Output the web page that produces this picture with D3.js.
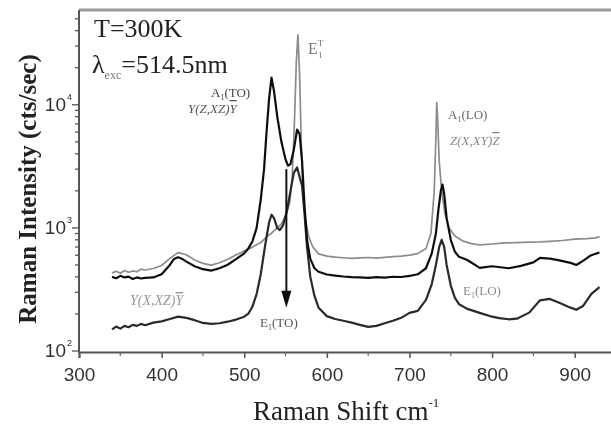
<!DOCTYPE html>
<html>
<head>
<meta charset="utf-8">
<script src="https://cdn.jsdelivr.net/npm/d3@7"></script>
<style>
  body { margin: 0; background: #fff; }
  svg { display: block; }
</style>
</head>
<body>
<div id="chart"></div>
<script>
// Raman spectra, three scattering geometries (shift cm-1, intensity cts/sec)
var greyShift = [340,345,350,355,360,365,370,375,380,390,400,410,420,430,440,450,460,470,480,490,500,510,520,527,533,540,545,550,555,558,561,563,565,567,569,571,574,578,583,590,600,610,620,630,640,650,660,670,680,690,700,710,720,726,730,732,733,734,736,739,743,748,755,765,775,785,800,815,830,845,858,870,885,900,915,925,930]
var greyVal   = [431,445,428,450,436,447,440,462,455,468,495,565,630,605,548,515,498,521,556,603,648,698,760,845,905,1000,1080,1250,1600,2500,8000,22000,37000,18000,5000,2000,1200,850,700,615,590,578,572,566,570,575,569,577,585,590,600,618,680,900,2000,5500,10400,8000,3500,2000,1300,1000,860,780,745,727,740,755,760,765,770,778,790,810,818,830,850]

var darkShift = [340,345,350,355,360,365,370,375,380,390,400,410,415,420,425,430,440,450,460,470,480,490,500,505,510,515,520,524,527,530,533,536,540,545,550,553,556,560,564,567,570,573,576,580,585,590,600,610,620,630,640,650,660,670,680,690,700,710,720,727,732,735,738,740,742,745,750,755,760,770,785,800,820,835,850,858,870,880,895,902,910,920,930]
var darkVal   = [400,390,408,396,402,385,396,388,392,396,420,500,560,578,560,532,488,462,450,470,502,558,622,680,780,1000,1700,3000,6000,11000,16600,13000,8000,5000,3600,3200,3300,4300,6300,5800,3500,1500,800,560,470,440,418,410,403,398,396,392,398,394,401,399,407,420,470,620,900,1400,2000,2250,1900,1200,800,640,582,548,473,488,470,492,525,570,562,548,520,500,540,600,632]

var lowShift  = [340,345,350,355,360,365,370,375,380,390,400,410,420,430,440,450,460,470,480,490,500,505,510,515,520,525,530,533,536,540,543,547,552,556,560,564,567,570,573,576,580,585,590,600,610,620,630,640,650,660,670,680,690,700,710,720,727,732,736,739,742,745,750,755,760,770,785,800,809,820,830,845,858,870,882,895,902,910,920,930]
var lowVal    = [150,158,152,160,156,163,160,166,162,170,174,182,190,186,178,169,166,168,173,180,190,201,230,290,420,700,1100,1280,1200,1000,960,1050,1400,2000,2800,3100,2600,2200,1300,700,400,280,225,192,182,176,170,163,157,160,168,176,186,204,212,260,350,500,700,800,700,500,340,270,240,220,204,190,185,181,183,205,258,265,245,225,216,232,290,330]

var xTicks = [300,400,500,600,700,800,900]
var xMinor = [350,450,550,650,750,850]
var yDecades = [2,3,4]

// peak marker for E1(TO)
var arrowShift = 551
var arrowFrom = 3000
var arrowTo = 225

var width = 611, height = 427

var svg = d3.select("#chart").append("svg")
    .attr("width", width)
    .attr("height", height)
    .style("font-family", "'Liberation Serif', 'Times New Roman', serif")

var defs = svg.append("defs")
defs.append("filter").attr("id", "soft")
    .append("feGaussianBlur").attr("stdDeviation", 0.45)

var x = d3.scaleLinear().domain([300, 950]).range([79, 616])
var y = d3.scaleLog().domain([100, Math.pow(10, 4.77)]).range([351, 10])

var g = svg.append("g").attr("filter", "url(#soft)")

// frame: top line, left and bottom axes
g.append("line").attr("x1", 79).attr("x2", 616).attr("y1", 10).attr("y2", 10)
    .attr("stroke", "#9a9a9a").attr("stroke-width", 3)

var xAxis = g.append("g").attr("transform", "translate(0," + 352 + ")")
    .call(d3.axisBottom(x).tickValues(xTicks).tickSize(6).tickFormat(d3.format("d")))
xAxis.select(".domain").attr("stroke", "#555").attr("stroke-width", 2)
xAxis.selectAll(".tick line").attr("stroke", "#555").attr("stroke-width", 1.5)
xAxis.selectAll("text")
    .attr("font-family", "'Liberation Sans', Arial, sans-serif")
    .attr("font-size", 19).attr("fill", "#333").attr("dy", "1.05em")
xAxis.selectAll(".minor").data(xMinor).enter().append("line")
    .attr("x1", d => x(d)).attr("x2", d => x(d)).attr("y1", 0).attr("y2", 4)
    .attr("stroke", "#666").attr("stroke-width", 1.2)

var yAxis = g.append("g").attr("transform", "translate(" + 79 + ",0)")
yAxis.append("line").attr("x1", 0).attr("x2", 0).attr("y1", 10).attr("y2", 353)
    .attr("stroke", "#555").attr("stroke-width", 2)
var yMinor = []
for (var e = 2; e <= 4; e++) {
    for (var m = 1; m <= 9; m++) {
        var v = m * Math.pow(10, e)
        if (v <= y.domain()[1]) yMinor.push(v)
    }
}
yAxis.selectAll(".ytick").data(yMinor).enter().append("line")
    .attr("x1", d => String(d)[0] === "1" ? -7 : -4)
    .attr("x2", 0)
    .attr("y1", d => y(d)).attr("y2", d => y(d))
    .attr("stroke", "#555").attr("stroke-width", 1.3)

var yLab = yAxis.selectAll(".ylab").data(yDecades).enter().append("text")
    .attr("x", -7).attr("y", d => y(Math.pow(10, d)) + 6)
    .attr("text-anchor", "end")
    .attr("font-family", "'Liberation Sans', Arial, sans-serif")
    .attr("font-size", 19).attr("fill", "#333")
yLab.append("tspan").text("10")
yLab.append("tspan").attr("font-size", 9).attr("dx", 1).attr("dy", -11).text(d => d)

// spectra
var line = d3.line().x(d => x(d[0])).y(d => y(d[1]))
var series = [
    {shift: greyShift, val: greyVal, color: "#8c8c8c", w: 1.7},
    {shift: lowShift, val: lowVal, color: "#2a2a2a", w: 2.2},
    {shift: darkShift, val: darkVal, color: "#111", w: 2.2}
]
series.forEach(function (s) {
    g.append("path")
        .datum(d3.zip(s.shift, s.val))
        .attr("d", line)
        .attr("fill", "none")
        .attr("stroke", s.color)
        .attr("stroke-width", s.w)
        .attr("stroke-linejoin", "round")
})

// arrow
var ax = x(arrowShift), ay0 = y(arrowFrom), ay1 = y(arrowTo)
g.append("line")
    .attr("x1", ax).attr("x2", ax)
    .attr("y1", ay0).attr("y2", ay1 - 14)
    .attr("stroke", "#111").attr("stroke-width", 2)
g.append("path")
    .attr("d", "M" + (ax - 5) + "," + (ay1 - 17) + "L" + (ax + 5) + "," + (ay1 - 17) + "L" + ax + "," + ay1 + "Z")
    .attr("fill", "#111")

// annotations
var txt = g.append("g")

function label(px, py, size, color, italic) {
    return txt.append("text").attr("x", px).attr("y", py)
        .attr("font-size", size).attr("fill", color)
        .attr("font-style", italic ? "italic" : null)
}

label(94, 37, 26, "#222").text("T=300K")

var lam = label(92, 73, 26, "#222")
lam.append("tspan").text("λ")
lam.append("tspan").attr("font-size", 12).attr("dy", 6).attr("fill", "#777").text("exc")
lam.append("tspan").attr("dy", -6).text("=514.5nm")

var a1to = label(211, 97, 13, "#444")
a1to.append("tspan").text("A")
a1to.append("tspan").attr("font-size", 8).attr("dy", 3).text("1")
a1to.append("tspan").attr("dy", -3).text("(TO)")

var geo1 = label(188, 113, 13, "#555", true)
geo1.append("tspan").text("Y(Z,XZ)")
geo1.append("tspan").attr("text-decoration", "overline").text("Y")

var et = label(308, 54, 16, "#777")
et.append("tspan").text("E")
et.append("tspan").attr("font-size", 9).attr("dy", -8).text("T")
et.append("tspan").attr("font-size", 9).attr("dx", -5).attr("dy", 12).text("1")

var a1lo = label(448, 119, 13, "#666")
a1lo.append("tspan").text("A")
a1lo.append("tspan").attr("font-size", 8).attr("dy", 3).text("1")
a1lo.append("tspan").attr("dy", -3).text("(LO)")

var geo2 = label(450, 145, 13, "#888", true)
geo2.append("tspan").text("Z(X,XY)")
geo2.append("tspan").attr("text-decoration", "overline").text("Z")

var e1lo = label(463, 295, 13, "#8a8a8a")
e1lo.append("tspan").text("E")
e1lo.append("tspan").attr("font-size", 8).attr("dy", 3).text("1")
e1lo.append("tspan").attr("dy", -3).text("(LO)")

var e1to = label(260, 327, 13, "#555")
e1to.append("tspan").text("E")
e1to.append("tspan").attr("font-size", 8).attr("dy", 3).text("1")
e1to.append("tspan").attr("dy", -3).text("(TO)")

var geo3 = label(130, 305, 14, "#999", true)
geo3.append("tspan").text("Y(X,XZ)")
geo3.append("tspan").attr("text-decoration", "overline").text("Y")

// axis titles
g.append("text")
    .attr("transform", "translate(36," + 189 + ") rotate(-90)")
    .attr("text-anchor", "middle")
    .attr("font-size", 25).attr("font-weight", "bold").attr("fill", "#222")
    .text("Raman Intensity (cts/sec)")

var xt = g.append("text")
    .attr("x", 253).attr("y", 420)
    .attr("font-size", 27).attr("fill", "#222")
xt.append("tspan").text("Raman Shift cm")
xt.append("tspan").attr("font-size", 13).attr("dy", -13).text("-1")
</script>
</body>
</html>
